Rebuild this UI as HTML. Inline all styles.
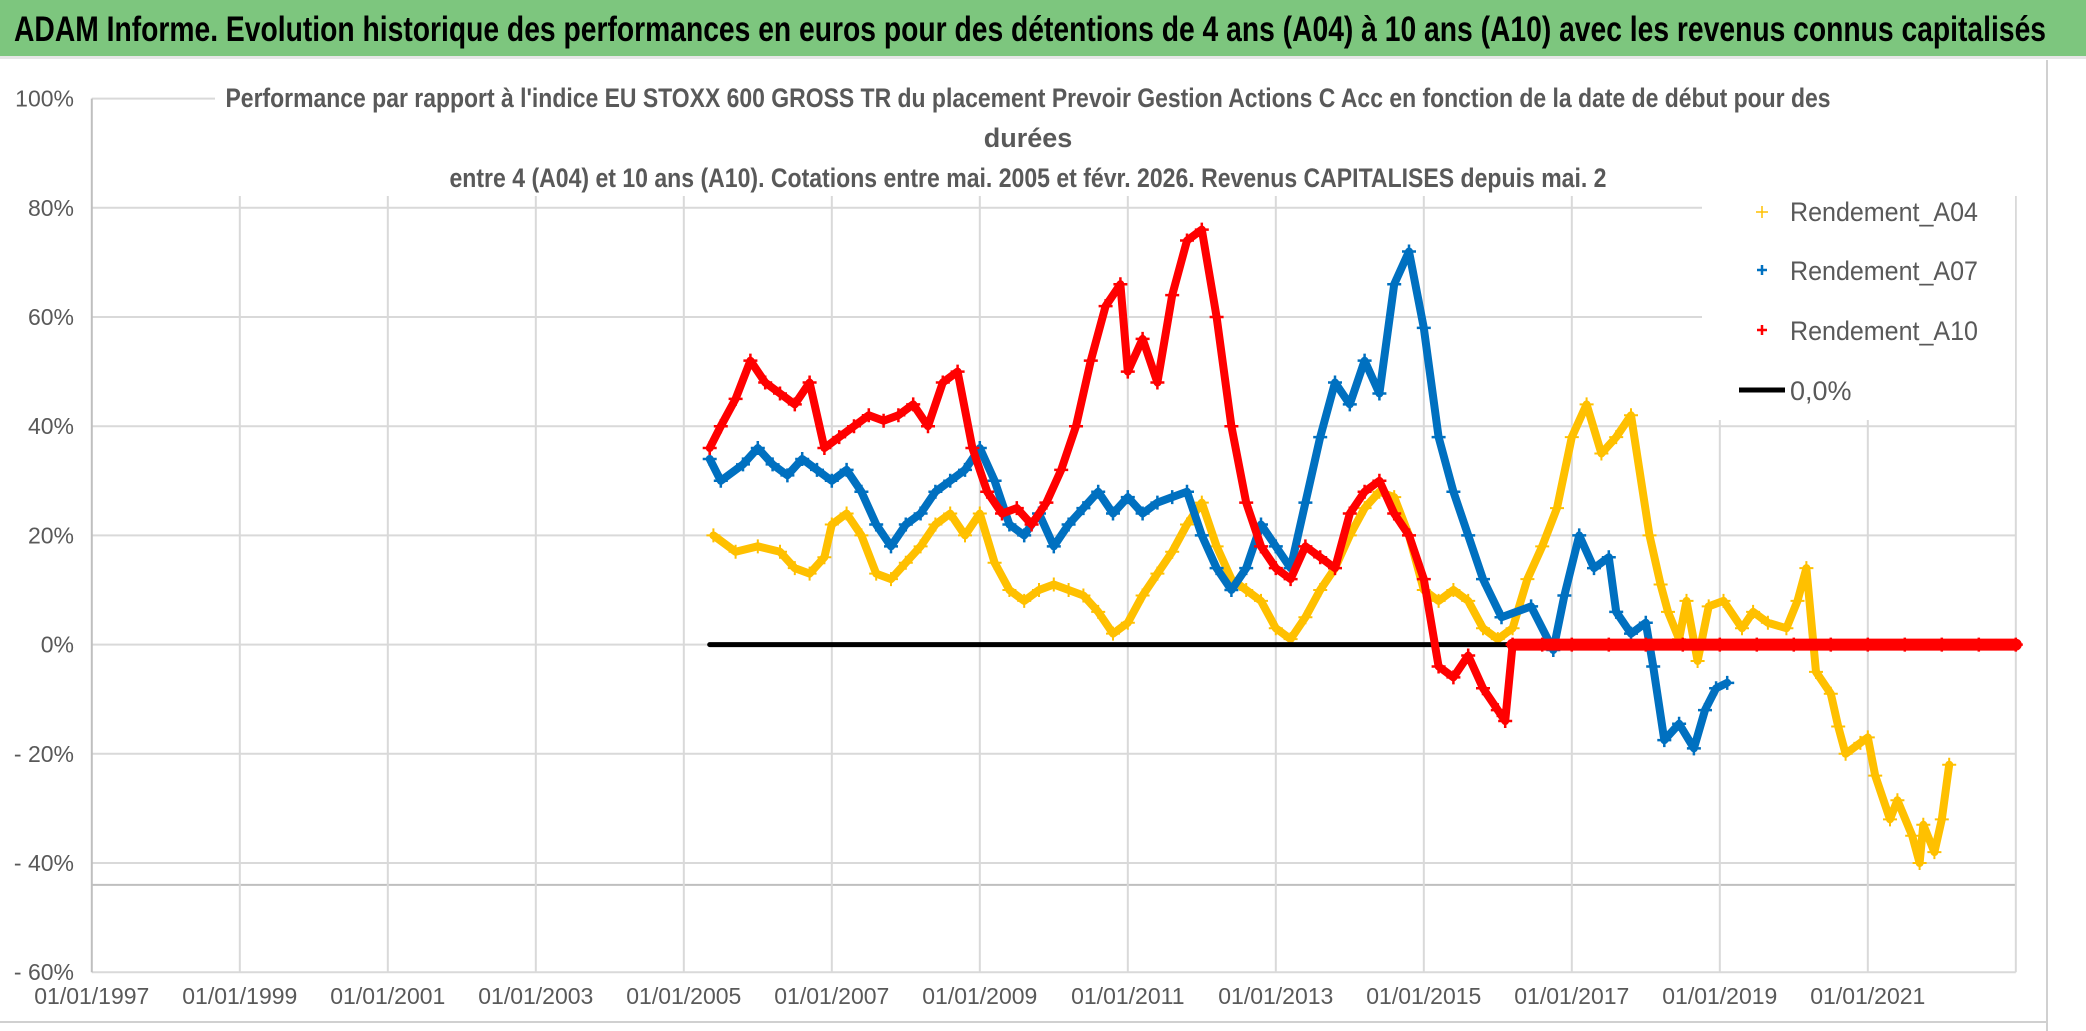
<!DOCTYPE html>
<html><head><meta charset="utf-8"><style>
html,body{margin:0;padding:0;background:#fff}
svg{display:block}
text{font-family:"Liberation Sans Narrow","Liberation Sans",sans-serif}
</style></head><body>
<svg id="chart" width="2086" height="1031" viewBox="0 0 2086 1031" xmlns="http://www.w3.org/2000/svg">
<rect x="0" y="0" width="2086" height="1031" fill="#fff"/>
<rect x="0" y="0" width="2086" height="56" fill="#7dc67e"/>
<rect x="0" y="56" width="2086" height="3" fill="#e6e6e6"/>
<text x="14" y="41" font-size="35" font-weight="bold" fill="#000" textLength="2032" lengthAdjust="spacingAndGlyphs">ADAM Informe. Evolution historique des performances en euros pour des détentions de 4 ans (A04) à 10 ans (A10) avec les revenus connus capitalisés</text>
<line x1="2047" y1="60" x2="2047" y2="1031" stroke="#d0d0d0" stroke-width="2"/>
<line x1="0" y1="1022" x2="2047" y2="1022" stroke="#d0d0d0" stroke-width="2"/>
<g id="grid"></g>
<rect x="215" y="78" width="1805" height="118" fill="#fff"/>
<g fill="#595959" font-size="27" font-weight="bold" text-anchor="middle">
<text x="1028" y="107" textLength="1605" lengthAdjust="spacingAndGlyphs">Performance par rapport à l'indice EU STOXX 600 GROSS TR  du placement Prevoir Gestion Actions C Acc en fonction de la date de début pour des</text>
<text x="1028" y="147">durées</text>
<text x="1028" y="187" textLength="1157" lengthAdjust="spacingAndGlyphs">entre 4 (A04) et 10 ans (A10). Cotations entre mai. 2005 et févr. 2026. Revenus CAPITALISES depuis mai. 2</text>
</g>
<g id="series"></g>
<rect x="1702" y="176" width="313" height="244" fill="#fff"/>
<g font-size="27" fill="#595959">
<g><path d="M1756 212h12M1762 206v12" stroke="#ffc000" stroke-width="1.5"/><text x="1790" y="221" textLength="188" lengthAdjust="spacingAndGlyphs">Rendement_A04</text></g>
<g><path d="M1757 270h10M1762 265v10" stroke="#0070c0" stroke-width="2.5"/><text x="1790" y="280" textLength="188" lengthAdjust="spacingAndGlyphs">Rendement_A07</text></g>
<g><path d="M1757 330h10M1762 325v10" stroke="#ff0000" stroke-width="2.5"/><text x="1790" y="340" textLength="188" lengthAdjust="spacingAndGlyphs">Rendement_A10</text></g>
<g><line x1="1739" y1="390" x2="1785" y2="390" stroke="#000" stroke-width="5"/><text x="1790" y="400">0,0%</text></g>
</g>
</svg>
<script>
const yTicks=[100,80,60,40,20,0,-20,-40,-60];
const yTickLabels=["100%","80%","60%","40%","20%","0%","- 20%","- 40%","- 60%"];
const xTicks=[1997,1999,2001,2003,2005,2007,2009,2011,2013,2015,2017,2019,2021,2023];
const xTickLabels=["01/01/1997","01/01/1999","01/01/2001","01/01/2003","01/01/2005","01/01/2007","01/01/2009","01/01/2011","01/01/2013","01/01/2015","01/01/2017","01/01/2019","01/01/2021",""];
const a04Dates=[2005.4,2005.7,2006.0,2006.3,2006.5,2006.7,2006.9,2007.0,2007.2,2007.4,2007.6,2007.8,2008.0,2008.2,2008.4,2008.6,2008.8,2009.0,2009.2,2009.4,2009.6,2009.8,2010.0,2010.2,2010.4,2010.6,2010.8,2011.0,2011.2,2011.4,2011.6,2011.8,2012.0,2012.2,2012.4,2012.6,2012.8,2013.0,2013.2,2013.4,2013.6,2013.8,2014.0,2014.2,2014.4,2014.6,2014.8,2015.0,2015.2,2015.4,2015.6,2015.8,2016.0,2016.2,2016.4,2016.6,2016.8,2017.0,2017.2,2017.4,2017.6,2017.8,2018.05,2018.2,2018.3,2018.45,2018.55,2018.7,2018.85,2019.05,2019.3,2019.45,2019.65,2019.9,2020.05,2020.17,2020.3,2020.5,2020.6,2020.7,2020.9,2021.0,2021.1,2021.3,2021.4,2021.6,2021.7,2021.75,2021.9,2022.0,2022.1];
const a04Values=[20,17,18,17,14,13,16,22,24,20,13,12,15,18,22,24,20,24,15,10,8,10,11,10,9,6,2,4,9,13,17,22,26,18,12,10,8,3,1,5,10,14,20,25,28,27,20,10,8,10,8,3,1,3,12,18,25,38,44,35,38,42,20,11,6,1,8,-3,7,8,3,6,4,3,8,14,-5,-9,-15,-20,-18,-17,-24,-32,-28.5,-35,-40,-33,-38,-32,-22];
const a07Dates=[2005.35,2005.5,2005.8,2006.0,2006.2,2006.4,2006.6,2006.8,2007.0,2007.2,2007.4,2007.6,2007.8,2008.0,2008.2,2008.4,2008.6,2008.8,2009.0,2009.2,2009.4,2009.6,2009.8,2010.0,2010.2,2010.4,2010.6,2010.8,2011.0,2011.2,2011.4,2011.6,2011.8,2012.0,2012.2,2012.4,2012.6,2012.8,2013.0,2013.2,2013.4,2013.6,2013.8,2014.0,2014.2,2014.4,2014.6,2014.8,2015.0,2015.2,2015.4,2015.6,2015.8,2016.05,2016.45,2016.75,2016.9,2017.1,2017.3,2017.5,2017.6,2017.8,2018.0,2018.1,2018.25,2018.45,2018.65,2018.8,2018.95,2019.1];
const a07Values=[34,30,33,36,33,31,34,32,30,32,28,22,18,22,24,28,30,32,36,30,22,20,24,18,22,25,28,24,27,24,26,27,28,20,14,10,14,22,18,14,26,38,48,44,52,46,66,72,58,38,28,20,12,5,7,-1,9,20,14,16,6,2,4,-4,-17.5,-14.5,-19,-12,-8,-7];
const a10Dates=[2005.35,2005.5,2005.7,2005.9,2006.1,2006.3,2006.5,2006.7,2006.9,2007.1,2007.3,2007.5,2007.7,2007.9,2008.1,2008.3,2008.5,2008.7,2008.9,2009.1,2009.3,2009.5,2009.7,2009.9,2010.1,2010.3,2010.5,2010.7,2010.9,2011.0,2011.2,2011.4,2011.6,2011.8,2012.0,2012.2,2012.4,2012.6,2012.8,2013.0,2013.2,2013.4,2013.6,2013.8,2014.0,2014.2,2014.4,2014.6,2014.8,2015.0,2015.2,2015.4,2015.6,2015.8,2016.0,2016.1,2016.2,2016.6,2017.0,2017.5,2018.0,2018.5,2019.0,2019.5,2020.0,2020.5,2021.0,2021.5,2022.0,2022.5,2023.0];
const a10Values=[36,40,45,52,48,46,44,48,36,38,40,42,41,42,44,40,48,50,36,28,24,25,22,26,32,40,52,62,66,50,56,48,64,74,76,60,40,26,18,14,12,18,16,14,24,28,30,24,20,12,-4,-6,-2,-8,-12,-14,0,0,0,0,0,0,0,0,0,0,0,0,0,0,0];
const zeroDates=[2005.35,2023.0];
const zeroValues=[0,0];

const NS="http://www.w3.org/2000/svg";
const X0=91.8, XPY=74.0, Y0=644.6, YPP=5.46;
function xScale(yr){return X0+(yr-1997)*XPY;}
function yScale(v){return Y0-v*YPP;}
function mk(tag,attrs,parent){const e=document.createElementNS(NS,tag);for(const k in attrs)e.setAttribute(k,attrs[k]);parent.appendChild(e);return e;}

const grid=document.getElementById('grid');
const L=xScale(1997), R=xScale(2023);
yTicks.forEach((t,i)=>{
  const gl=mk('line',{x1:L,x2:R,y1:yScale(t),y2:yScale(t),stroke:'#d9d9d9','stroke-width':2},grid);
  
  
  const tx=mk('text',{x:74,y:yScale(t)+8,'text-anchor':'end','font-size':23,fill:'#595959'},grid);
  
  
  tx.textContent=yTickLabels[i];
});
const extra=mk('line',{x1:L,x2:R,y1:yScale(-44),y2:yScale(-44),stroke:'#bfbfbf','stroke-width':2},grid);


xTicks.forEach((t,i)=>{
  const gl=mk('line',{x1:xScale(t),x2:xScale(t),y1:yScale(100),y2:yScale(-60),stroke:i===0?'#bfbfbf':'#d9d9d9','stroke-width':2},grid);
  
  
  const tx=mk('text',{x:xScale(t),y:1004,'text-anchor':'middle','font-size':23,fill:'#595959'},grid);
  
  
  tx.textContent=xTickLabels[i];
});

const layer=document.getElementById('series');
function drawScatter(dates,vals,color,name,mw){
  const g=mk('g',{},layer);
  
  
  const pts=dates.map((d,i)=>xScale(d)+','+yScale(vals[i])).join(' ');
  const band=mk('polyline',{points:pts,fill:'none',stroke:color,'stroke-width':8,'stroke-linejoin':'round','stroke-linecap':'round'},g);
  
  
  dates.forEach((d,i)=>{
    const x=xScale(d), y=yScale(vals[i]);
    const p=mk('path',{d:`M${x-7} ${y}h14M${x} ${y-7}v14`,stroke:color,'stroke-width':mw},g);
    
    
  });
}
drawScatter(a04Dates,a04Values,'#ffc000','series-a04',2);
drawScatter(a07Dates,a07Values,'#0070c0','series-a07',2.5);
const zl=mk('line',{x1:xScale(zeroDates[0]),x2:xScale(zeroDates[1]),y1:yScale(zeroValues[0]),y2:yScale(zeroValues[1]),stroke:'#000','stroke-width':5,'stroke-linecap':'round'},layer);


drawScatter(a10Dates,a10Values,'#ff0000','series-a10',2.5);
const zi=a10Values.findIndex((v,i)=>i>0&&v===0);
const zr=mk('line',{x1:xScale(a10Dates[zi]),x2:xScale(a10Dates[a10Dates.length-1]),y1:yScale(0),y2:yScale(0),stroke:'#ff0000','stroke-width':12,'stroke-linecap':'round'},layer);


</script>
</body></html>
